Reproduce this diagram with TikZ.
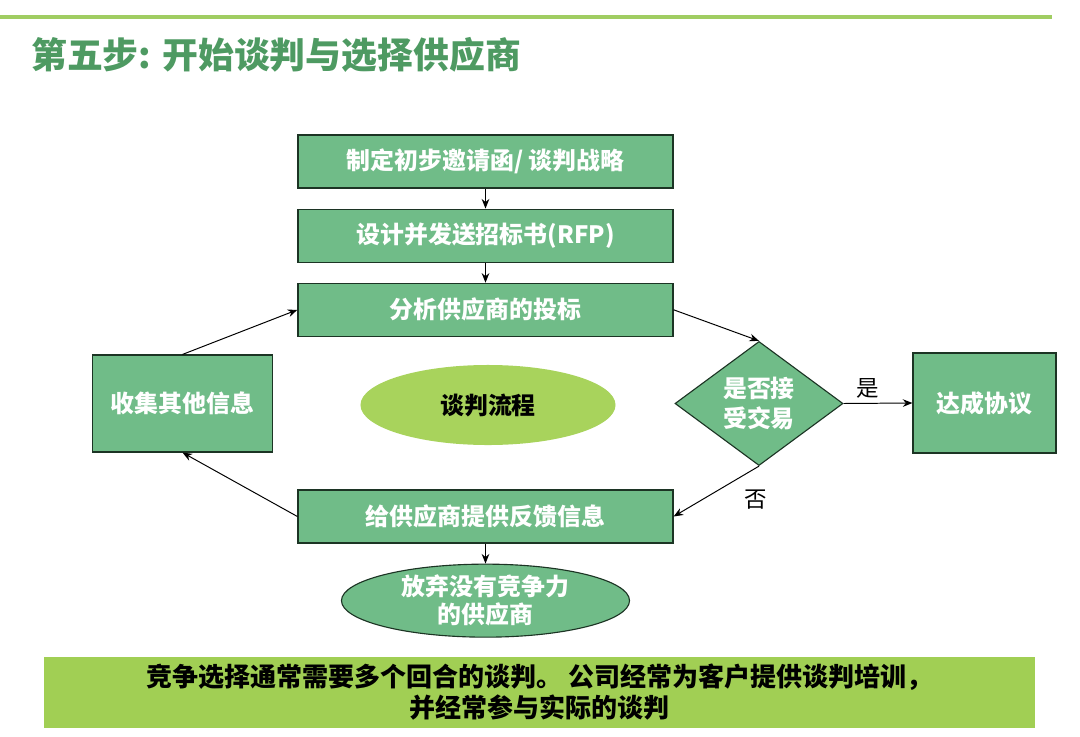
\documentclass[tikz,border=0pt]{standalone}
\usepackage{fontspec}
\setmainfont{Noto Sans CJK SC}
\usepackage{xcolor}
\usetikzlibrary{shapes.geometric,arrows.meta,positioning}
\definecolor{ngGreen}{RGB}{112,188,136}
\definecolor{ngEdge}{RGB}{28,52,36}
\definecolor{ngLime}{RGB}{168,211,92}
\definecolor{ngBar}{RGB}{161,207,84}
\definecolor{ngTitle}{RGB}{78,154,98}
\definecolor{ngLine}{RGB}{160,205,98}
\tikzset{
  ng_box/.style={
    draw=ngEdge, rectangle, fill=ngGreen, line width=0.8pt,
    minimum width=9.375cm, minimum height=1.325cm,
    text=white, align=center, font=\fontsize{17}{21}\selectfont\bfseries
  },
  ng_side/.style={
    ng_box, minimum width=4.5cm, minimum height=2.425cm
  },
  ng_dec/.style={
    draw=ngEdge, diamond, fill=ngGreen, line width=0.8pt, inner sep=0pt,
    minimum width=4.2cm, minimum height=3.075cm,
    text=white, align=center, font=\fontsize{17}{21}\selectfont\bfseries
  },
  ng_oval/.style={
    draw=ngEdge, ellipse, fill=ngGreen, line width=0.8pt, inner sep=0pt,
    minimum width=7.2cm, minimum height=1.825cm,
    text=white, align=center, font=\fontsize{17}{20}\selectfont\bfseries
  },
  ng_hub/.style={
    ellipse, fill=ngLime, inner sep=0pt,
    minimum width=6.375cm, minimum height=2cm,
    text=black, font=\fontsize{17}{20}\selectfont\bfseries
  },
  ng_arr/.style={-{Stealth[length=2.4mm,width=1.9mm]}, line width=0.7pt},
  ng_lbl/.style={font=\fontsize{16}{19}\selectfont},
}

\begin{document}
\begin{tikzpicture}[x=0.025cm, y=-0.025cm]
\useasboundingbox (0,0) rectangle (1080,737);

% header
\draw[ngLine, line width=2.8pt] (0,17) -- (1052,17);
\node[anchor=west, text=ngTitle, font=\fontsize{25.5}{30}\selectfont\bfseries, inner sep=0pt]
  (title) at (31,55) {第五步: 开始谈判与选择供应商};

% main column
\node[ng_box] (invite) at (485.5,161.5) {制定初步邀请函/ 谈判战略};
\node[ng_box, below=0.5cm of invite] (rfp)    {设计并发送招标书(RFP)};
\node[ng_box, below=0.5cm of rfp]    (bids)   {分析供应商的投标};
\node[ng_box] (feedback) at (485.5,516.5) {给供应商提供反馈信息};
\node[ng_oval, below=0.5cm of feedback] (drop) {放弃没有竞争力\\的供应商};

% middle row
\node[ng_side] (collect) at (182.5,403.5) {收集其他信息};
\node[ng_hub]  (hub)     at (488,405)     {谈判流程};
\node[ng_dec]  (accept)  at (759,403.5)   {是否接\\受交易};
\node[ng_side, minimum width=3.575cm, minimum height=2.5cm] (deal) at (984.5,403) {达成协议};

% arrows
\draw[ng_arr] (invite)   -- (rfp);
\draw[ng_arr] (rfp)      -- (bids);
\draw[ng_arr] (bids.east) -- (accept.north);
\draw[ng_arr] (accept.east) -- node[ng_lbl, above, pos=0.35] {是} (deal.west);
\draw[ng_arr] (accept.south) -- node[ng_lbl, pos=0.3, xshift=0.55cm, yshift=-0.45cm] {否} (feedback.east);
\draw[ng_arr] (feedback.west) -- (collect.south);
\draw[ng_arr] (collect.north) -- (bids.west);
\draw[ng_arr] (feedback) -- (drop);

% bottom note
\node[rectangle, fill=ngBar, minimum width=24.775cm, minimum height=1.775cm,
      align=center, font=\fontsize{18.5}{22}\selectfont\bfseries] (note) at (539.5,692.5)
  {竞争选择通常需要多个回合的谈判。 公司经常为客户提供谈判培训，\\并经常参与实际的谈判};

\end{tikzpicture}
\end{document}
